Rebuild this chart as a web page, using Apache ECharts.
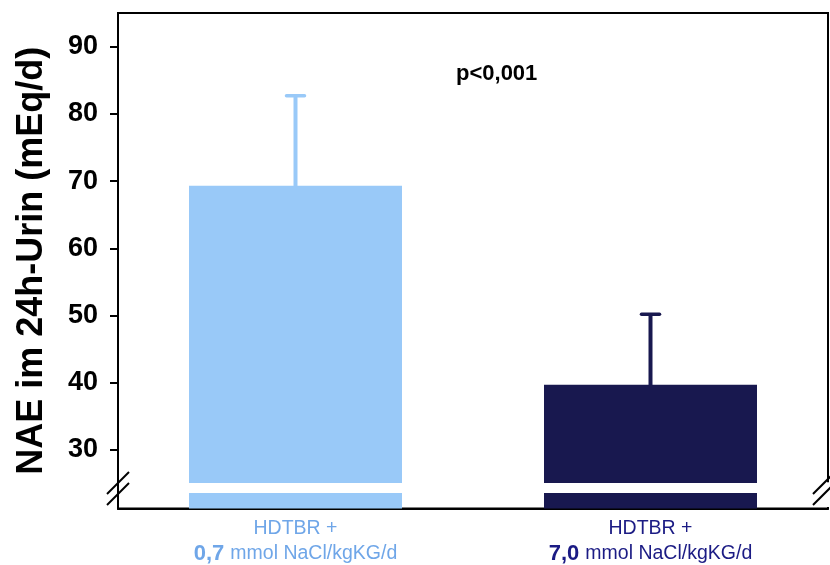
<!DOCTYPE html>
<html>
<head>
<meta charset="utf-8">
<script src="https://cdn.jsdelivr.net/npm/echarts@6/dist/echarts.min.js"></script>
<style>
  html, body { margin: 0; padding: 0; background: #fff; }
  #chart { width: 830px; height: 565px; }
</style>
</head>
<body>
<div id="chart"></div>
<script>
// ---- data ----
const doses = ['0,7', '7,0'];                 // category labels (mmol NaCl/kgKG/d)
const means = [69.3, 39.7];                   // bar heights (mEq/d)
const errorTops = [82.7, 50.2];               // upper error bar ends (mEq/d)
const yTicks = [30, 40, 50, 60, 70, 80, 90];  // tick labels
const axisBreak = [23.6, 25.1];               // axis break range shown as a gap
const pText = 'p<0,001';

// ---- styles ----
const barColors = ['#99C9F8', '#18184F'];
const labelColors = ['#6FA6E8', '#1B1B84'];
const FONT = '"Liberation Sans", Arial, Helvetica, sans-serif';
const Y_MIN = 21.3, Y_MAX = 95;

const chart = echarts.init(document.getElementById('chart'), null, { renderer: 'canvas' });

const seriesData = means.map((m, i) => [i, m, errorTops[i]]);

const rich = {};
doses.forEach((d, i) => {
  rich['l' + i] = { color: labelColors[i], fontSize: 19.5, fontFamily: FONT, lineHeight: 25 };
  rich['b' + i] = { color: labelColors[i], fontSize: 22, fontWeight: 'bold', fontFamily: FONT, lineHeight: 25, padding: [0, 6, 0, 0] };
});

const option = {
  backgroundColor: '#fff',
  animation: false,
  grid: {
    left: 118, right: 2, top: 13, bottom: 54,
    show: true, borderColor: '#000', borderWidth: 2, backgroundColor: 'transparent'
  },
  title: {
    text: pText,
    left: 451, top: 58,
    textStyle: { fontSize: 22, fontWeight: 'bold', color: '#000', fontFamily: FONT }
  },
  xAxis: {
    type: 'category',
    data: doses,
    axisLine: { show: true, lineStyle: { color: '#000', width: 2 } },
    axisTick: { show: false },
    axisLabel: {
      margin: 8,
      interval: 0,
      formatter: (v, i) => `{l${i}|HDTBR +}\n{b${i}|${v}}{l${i}|mmol NaCl/kgKG/d}`,
      rich: rich
    },
    splitLine: { show: false }
  },
  yAxis: {
    type: 'value',
    min: Y_MIN, max: Y_MAX,
    name: 'NAE im 24h-Urin (mEq/d)',
    nameLocation: 'middle',
    nameGap: 68,
    nameRotate: 90,
    nameTextStyle: { fontSize: 36, fontWeight: 'bold', color: '#000', fontFamily: FONT },
    axisLine: { show: true, lineStyle: { color: '#000', width: 2 } },
    axisTick: { show: true, length: 8, lineStyle: { color: '#000', width: 2 }, customValues: yTicks },
    axisLabel: {
      margin: 20, color: '#000', fontSize: 27, fontWeight: 'bold', fontFamily: FONT,
      customValues: yTicks
    },
    splitLine: { show: false }
  },
  series: [{
    type: 'custom',
    data: seriesData,
    encode: { x: 0, y: 1 },
    renderItem: function (params, api) {
      const i = params.dataIndex;
      const x = api.value(0);
      const mean = api.value(1);
      const hi = api.value(2);
      const col = barColors[i];
      const top = api.coord([x, mean]);
      const base = api.coord([x, Y_MIN]);
      const bw = api.size([1, 0])[0] * 0.6;
      const gTop = api.coord([x, axisBreak[1]])[1];
      const gBot = api.coord([x, axisBreak[0]])[1];
      const eTop = api.coord([x, hi]);
      return {
        type: 'group',
        children: [
          { type: 'rect', shape: { x: top[0] - bw / 2, y: top[1], width: bw, height: base[1] - top[1] },
            style: { fill: col } },
          { type: 'rect', shape: { x: top[0] - bw / 2 - 1, y: gTop, width: bw + 2, height: gBot - gTop },
            style: { fill: '#fff' } },
          { type: 'line', shape: { x1: top[0], y1: top[1] + 1, x2: eTop[0], y2: eTop[1] },
            style: { stroke: col, lineWidth: 4 } },
          { type: 'line', shape: { x1: eTop[0] - 9, y1: eTop[1], x2: eTop[0] + 9, y2: eTop[1] },
            style: { stroke: col, lineWidth: 3.5, lineCap: 'round' } }
        ]
      };
    }
  }]
};

chart.setOption(option);

// axis-break marks ("//") on the left axis and right frame, positioned through the axis scale
function breakMarks() {
  const mid = (axisBreak[0] + axisBreak[1]) / 2;
  const yc = chart.convertToPixel({ yAxisIndex: 0 }, mid);
  const yTopBreak = chart.convertToPixel({ yAxisIndex: 0 }, axisBreak[1] + 0.1);
  const gridRect = chart.getModel().getComponent('grid').coordinateSystem.getRect();
  const xl = gridRect.x, xr = gridRect.x + gridRect.width;
  const els = [];
  els.push({ type: 'rect', shape: { x: xr - 3, y: yTopBreak, width: 6, height: gridRect.y + gridRect.height - yTopBreak - 1.5 },
             style: { fill: '#fff' }, z: 100 });
  [xl, xr - 4].forEach(xc => {
    [-5, 6].forEach(dy => {
      els.push({ type: 'line', shape: { x1: xc - 11, y1: yc + dy + 11, x2: xc + 11, y2: yc + dy - 11 },
                 style: { stroke: '#000', lineWidth: 2 }, z: 101 });
    });
  });
  chart.setOption({ graphic: els });
}
breakMarks();
</script>
</body>
</html>
